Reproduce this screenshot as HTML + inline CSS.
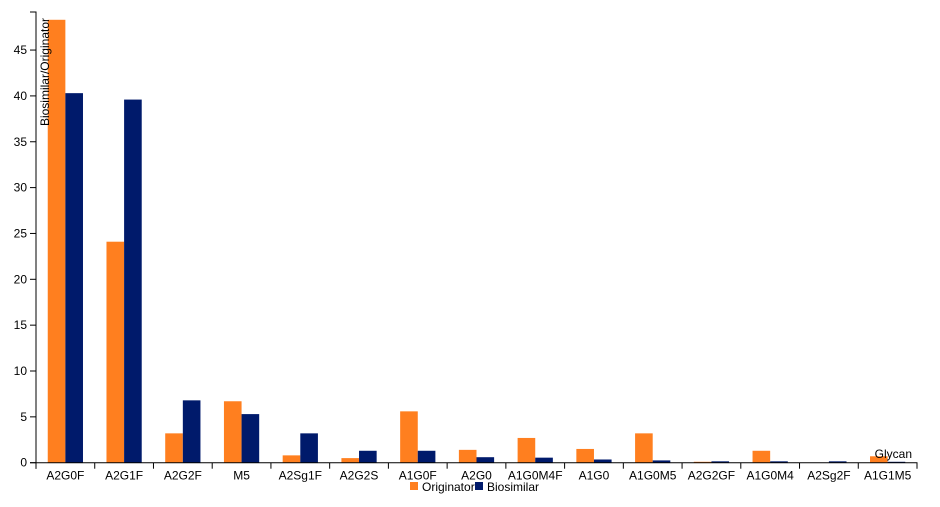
<!DOCTYPE html>
<html><head><meta charset="utf-8"><style>
body{margin:0;background:#fff;font-family:"Liberation Sans",Arial,sans-serif;}
svg text{font-family:"Liberation Sans",Arial,sans-serif;font-size:12px;fill:#000;}
</style></head><body>
<svg id="chart" width="940" height="502" xmlns="http://www.w3.org/2000/svg"></svg>
<script>
const categories=["A2G0F","A2G1F","A2G2F","M5","A2Sg1F","A2G2S","A1G0F","A2G0","A1G0M4F","A1G0","A1G0M5","A2G2GF","A1G0M4","A2Sg2F","A1G1M5"];
const originator=[48.3,24.1,3.2,6.7,0.8,0.5,5.6,1.4,2.7,1.5,3.2,0.1,1.3,0,0.7];
const biosimilar=[40.3,39.6,6.8,5.3,3.2,1.3,1.3,0.6,0.55,0.35,0.25,0.15,0.15,0.15,0.1];
const yTicks=[0,5,10,15,20,25,30,35,40,45];
const seriesNames=["Originator","Biosimilar"];
const colors=["#ff7f1f","#001a6b"];
const NS="http://www.w3.org/2000/svg";
const svg=document.getElementById('chart');
const x0=36,x1=917,yBase=462.7,yTop=12,yMax=49.15;
const band=(x1-x0)/categories.length;
const y=v=>yBase-(v/yMax)*(yBase-yTop);
const xb=i=>x0+i*band;
function mk(t,a){const e=document.createElementNS(NS,t);for(const k in a)e.setAttribute(k,a[k]);svg.appendChild(e);return e;}
// bars
categories.forEach((c,i)=>{
  const bw=band*0.3, start=xb(i)+band*0.2;
  [originator,biosimilar].forEach((s,j)=>{
    const r=mk('rect',{x:start+j*bw,y:y(s[i]),width:bw,height:yBase-y(s[i]),fill:colors[j]});
    
    
  });
});
// y axis
const ya=mk('path',{d:`M${x0-6},${yTop}H${x0}V${yBase}H${x0-6}`,fill:'none',stroke:'#000','stroke-width':1});


yTicks.forEach(t=>{
  mk('line',{x1:x0-6,x2:x0,y1:y(t),y2:y(t),stroke:'#000'});
  const tx=mk('text',{x:x0-9,y:y(t)+4,'text-anchor':'end'});
  tx.textContent=t;
  
  
});
const yt=mk('text',{transform:`translate(49,${yTop+6}) rotate(-90)`,'text-anchor':'end'});
yt.textContent='Biosimilar/Originator';


// x axis
const xa=mk('path',{d:`M${x0},${yBase+6}V${yBase}H${x1}V${yBase+6}`,fill:'none',stroke:'#000'});


categories.forEach((c,i)=>{
  mk('line',{x1:xb(i),x2:xb(i),y1:yBase,y2:yBase+6,stroke:'#000'});
  const tx=mk('text',{x:xb(i)+band/2,y:yBase+17,'text-anchor':'middle'});
  tx.textContent=c;
  
  
});
const xt=mk('text',{x:912,y:458,'text-anchor':'end'});
xt.textContent='Glycan';


// legend
const lx=[410,475];
seriesNames.forEach((n,j)=>{
  const r=mk('rect',{x:lx[j],y:482,width:8,height:8,fill:colors[j]});
  
  
  const t=mk('text',{x:lx[j]+12,y:491});
  t.textContent=n;
  
  
});
</script>
</body></html>
